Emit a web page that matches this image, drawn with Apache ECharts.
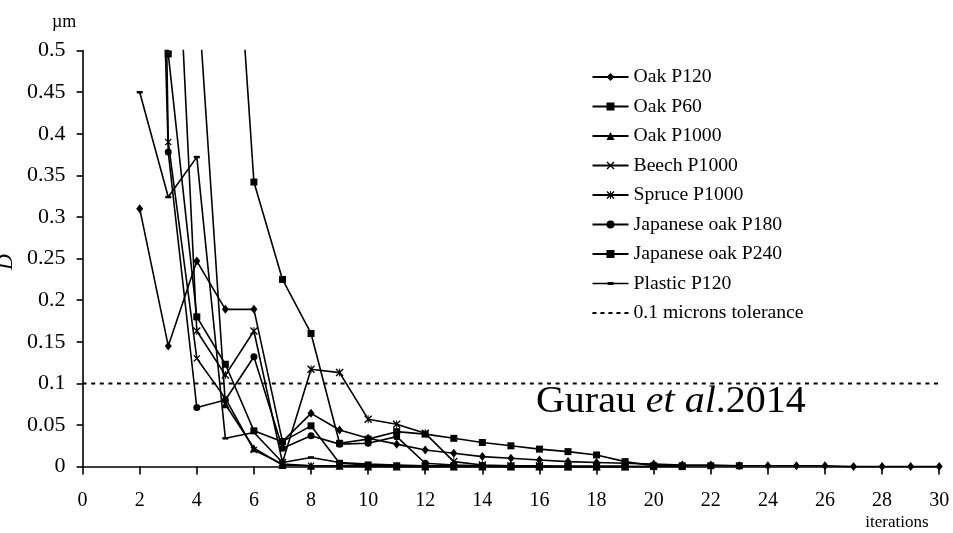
<!DOCTYPE html>
<html>
<head>
<meta charset="utf-8">
<script src="https://cdn.jsdelivr.net/npm/echarts@6/dist/echarts.min.js"></script>
<style>
html,body{margin:0;padding:0;background:#fff;}
#chart{width:953px;height:533px;}
</style>
</head>
<body>
<div id="chart"></div>
<script>
// iterations 2..30
var iterations = [2,3,4,5,6,7,8,9,10,11,12,13,14,15,16,17,18,19,20,21,22,23,24,25,26,27,28,29,30];
var oakP120   = [0.310,0.145,0.247,0.189,0.189,0.030,0.064,0.044,0.034,0.027,0.020,0.016,0.012,0.010,0.008,0.006,0.005,0.004,0.003,0.002,0.002,0.001,0.001,0.001,0.001,0.000,0.000,0.000,0.000];
var oakP60    = [1.800,0.496,0.180,0.123,0.043,0.030,0.049,0.004,0.002,0.001,0.001,0.001,0.001,0.000,0.000,0.000,0.000,0.000,0.000,0.000,null,null,null,null,null,null,null,null,null];
var oakP1000  = [null,1.400,0.588,0.075,0.022,0.002,0.001,0.001,0.000,0.000,0.000,0.000,0.000,0.000,0.000,0.000,0.000,0.000,null,null,null,null,null,null,null,null,null,null,null];
var beechP1000= [2.500,0.390,0.130,0.082,0.020,0.003,0.001,0.001,0.001,0.000,0.000,0.000,0.000,0.000,0.000,0.000,0.000,0.000,null,null,null,null,null,null,null,null,null,null,null];
var spruceP1000=[null,0.876,0.163,0.110,0.163,0.005,0.117,0.113,0.057,0.051,0.040,0.006,0.002,0.001,0.001,0.000,0.000,0.000,null,null,null,null,null,null,null,null,null,null,null];
var jpOakP180 = [1.600,0.378,0.071,0.080,0.132,0.022,0.037,0.027,0.028,0.036,0.004,0.002,0.001,0.001,0.000,0.000,0.000,0.000,0.000,null,null,null,null,null,null,null,null,null,null];
var jpOakP240 = [null,3.000,1.600,0.850,0.342,0.225,0.160,0.028,0.033,0.042,0.039,0.034,0.029,0.025,0.021,0.018,0.014,0.006,0.001,0.001,0.001,0.001,null,null,null,null,null,null,null];
var plasticP120=[0.450,0.324,0.372,0.034,0.041,0.005,0.011,0.005,0.003,0.002,0.001,0.001,0.001,0.000,null,null,null,null,null,null,null,null,null,null,null,null,null,null,null];
var tolerance = 0.1;
var xTickLabels = ['0','2','4','6','8','10','12','14','16','18','20','22','24','26','28','30'];
var yTickLabels = ['0','0.05','0.1','0.15','0.2','0.25','0.3','0.35','0.4','0.45','0.5'];

function pairs(arr){ return iterations.map(function(x,i){ return [x, arr[i]]; }); }

var FONT = 'Liberation Serif';
var xPath = 'path://M0,1.2L1.2,0L5,3.8L8.8,0L10,1.2L6.2,5L10,8.8L8.8,10L5,6.2L1.2,10L0,8.8L3.8,5Z';
var starPath = 'path://M0,1.2L1.2,0L5,3.8L8.8,0L10,1.2L6.2,5L10,8.8L8.8,10L5,6.2L1.2,10L0,8.8L3.8,5Z M4.4,0L5.6,0L5.6,10L4.4,10Z';
// legend icons (36x10 box, bounds fixed by hairline slivers)
var boundsPath = 'M0,0H36V0.001H0Z M0,10H36V9.999H0Z ';
var plasticIcon = 'path://' + boundsPath + 'M0,4.3H36V5.7H0Z M15,3.6H21V6.4H15Z';
var dashIcon = 'path://' + boundsPath + 'M0,4H4V6H0Z M8,4H12V6H8Z M16,4H20V6H16Z M24,4H28V6H24Z M32,4H36V6H32Z';

function mk(name, arr, symbol, size){
  return {
    name: name, type: 'line', data: pairs(arr),
    symbol: symbol, symbolSize: size, showSymbol: true,
    lineStyle: {color:'#000', width:1.6},
    itemStyle: {color:'#000'},
    connectNulls: false, clip: true, silent: true
  };
}

var series = [
  mk('Oak P120', oakP120, 'diamond', [7,9]),
  mk('Oak P60', oakP60, 'rect', 7),
  mk('Oak P1000', oakP1000, 'triangle', 8),
  mk('Beech P1000', beechP1000, xPath, 7),
  mk('Spruce P1000', spruceP1000, starPath, 8),
  mk('Japanese oak P180', jpOakP180, 'circle', 7),
  mk('Japanese oak P240', jpOakP240, 'rect', 7),
  mk('Plastic P120', plasticP120, 'rect', [6,2.5]),
  {
    name: '0.1 microns tolerance', type: 'line',
    data: [[0, tolerance],[30, tolerance]],
    symbol: 'none', silent: true,
    lineStyle: {color:'#000', width:2, type:[4,4.6]},
    itemStyle: {color:'#000'}
  }
];

var legendData = series.map(function(s){
  if (s.name === 'Plastic P120') return {name: s.name, icon: plasticIcon};
  if (s.name === '0.1 microns tolerance') return {name: s.name, icon: dashIcon};
  return {name: s.name};
});

var chart = echarts.init(document.getElementById('chart'), null, {renderer:'canvas'});
chart.setOption({
  animation: false,
  backgroundColor: '#fff',
  grid: {left: 82.6, right: 13.8, top: 50.6, bottom: 66.4, containLabel: false},
  xAxis: {
    type: 'value', min: 0, max: 30, interval: 2,
    axisLine: {show:true, onZero:false, lineStyle:{color:'#000', width:1.6}},
    axisTick: {show:true, length:8, lineStyle:{color:'#000', width:1.6}},
    axisLabel: {color:'#000', fontFamily:FONT, fontSize:20, margin:24,
      formatter: function(v){ return xTickLabels[Math.round(v/2)]; }},
    splitLine: {show:false}
  },
  yAxis: {
    type: 'value', min: 0, max: 0.5, interval: 0.05,
    axisLine: {show:true, lineStyle:{color:'#000', width:1.6}},
    axisTick: {show:true, length:6, lineStyle:{color:'#000', width:1.6}},
    axisLabel: {color:'#000', fontFamily:FONT, fontSize:22, margin:17,
      formatter: function(v){ return yTickLabels[Math.round(v/0.05)]; }},
    splitLine: {show:false}
  },
  legend: {
    orient: 'vertical', left: 586.5, top: 62,
    itemWidth: 36, itemHeight: 10, itemGap: 9.5,
    textStyle: {color:'#000', fontFamily:FONT, fontSize:19.7, lineHeight:18},
    data: legendData,
    selectedMode: false
  },
  graphic: [
    {type:'text', left: 52, top: 13, style:{text:'\u00b5m', font:'18px "Liberation Serif"', fill:'#000'}},
    {type:'text', x: 17, y: 262, rotation: Math.PI/2, style:{text:'D', font:'italic 22px "Liberation Serif"', fill:'#000', align:'center', verticalAlign:'bottom'}},
    {type:'text', x: 897, y: 523, style:{text:'iterations', font:'17px "Liberation Serif"', fill:'#000', align:'center', verticalAlign:'middle'}},
    {type:'text', x: 536, y: 402, scaleX: 1.08, style:{
      text:'{n|Gurau }{i|et al}{n|.2014}',
      verticalAlign:'middle',
      rich:{
        n:{fontFamily:FONT, fontSize:37, fill:'#000'},
        i:{fontFamily:FONT, fontSize:37, fontStyle:'italic', fill:'#000'}
      }
    }}
  ],
  series: series
});
</script>
</body>
</html>
